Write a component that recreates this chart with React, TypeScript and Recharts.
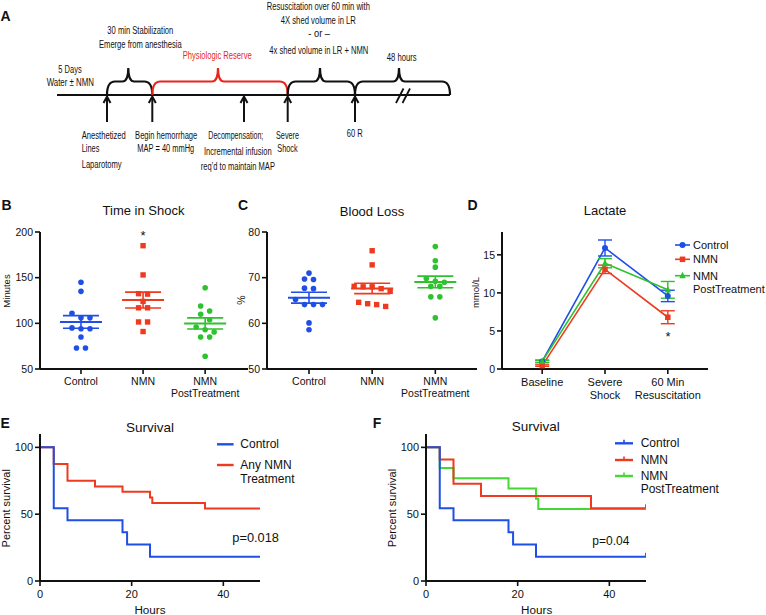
import React from 'react';
import { ScatterChart, Scatter, LineChart, Line, XAxis, YAxis, ErrorBar, Legend } from 'recharts';

const FONT = '"Liberation Sans", Arial, Helvetica, sans-serif';
const INK = '#111';
const BLUE = '#1f4fe6';
const RED = '#ee3b20';
const GREEN = '#2ec22e';
const GREEN_F = '#44d833';
const TIMELINE_RED = '#e8261c';

// B / C – groups
const groupLabels = [['Control'], ['NMN'], ['NMN', 'PostTreatment']];
const groupTicks = [1, 2, 3];

// B – time in shock (minutes)
const shockControl = [145, 135, 111, 106, 106, 95, 94, 94, 85, 73, 73];
const shockNmn = [185, 153, 132.5, 132, 124, 117, 117, 101.5, 101.5, 91];
const shockPost = [139, 119, 113.5, 110, 104, 96, 93, 90.5, 85, 85, 64];
const shockTicks = [50, 100, 150, 200];

// C – blood loss (%)
const lossControl = [71, 69.7, 69.6, 67.7, 67.6, 65.2, 64.1, 64.1, 64.1, 60.1, 58.6];
const lossNmn = [75.9, 72.8, 68.1, 68, 68, 67.6, 67, 64.6, 64.3, 64.1, 63.7];
const lossPost = [76.8, 73.7, 72.3, 69.8, 69.2, 69, 68.1, 68.1, 65.8, 65.8, 61.2];
const lossTicks = [50, 60, 70, 80];

// D – lactate (mmol/L), mean and SEM
const lactateLabels = [['Baseline'], ['Severe', 'Shock'], ['60 Min', 'Resuscitation']];
const lactateControl = [1.0, 15.9, 9.6];
const lactateControlSem = [0.15, 1.05, 0.75];
const lactateNmn = [0.45, 13.1, 6.8];
const lactateNmnSem = [0.1, 0.55, 0.85];
const lactatePost = [1.0, 13.9, 10.4];
const lactatePostSem = [0.15, 0.6, 1.1];
const lactateTicks = [0, 5, 10, 15];

// E / F – survival (%)
const ctrlHours = [0, 3, 6, 18, 19, 24, 48];
const ctrlSurvival = [100, 54.5, 45.5, 36.4, 27.3, 18.2, 18.2];
const anyNmnHours = [0, 3, 6, 12, 18, 24, 24.5, 36, 48];
const anyNmnSurvival = [100, 87.5, 75, 70.8, 66.7, 62.5, 58.3, 54.2, 54.2];
const nmnHours = [0, 3, 6, 12, 36, 48];
const nmnSurvival = [100, 90.9, 72.7, 63.6, 54.5, 54.5];
const postHours = [0, 3, 6, 18, 24, 24.5, 48];
const postSurvival = [100, 84.6, 76.9, 69.2, 61.5, 53.8, 53.8];
const hourTicks = [0, 20, 40];
const survivalTicks = [0, 50, 100];

const mean = (a: number[]) => a.reduce((s, v) => s + v, 0) / a.length;
const sem = (a: number[]) => {
  const m = mean(a);
  const sd = Math.sqrt(a.reduce((s, v) => s + (v - m) ** 2, 0) / (a.length - 1));
  return sd / Math.sqrt(a.length);
};

// spread points of similar value side by side, like a scatter dot plot
const ROW_TOL = 5.5;
const DOT_GAP = 9;
function swarm(values: number[], cat: number, pxPerUnit: number, pxPerCat: number) {
  const sorted = [...values].sort((a, b) => b - a);
  const rows: number[][] = [];
  sorted.forEach((v) => {
    const row = rows[rows.length - 1];
    if (row && (row[0] - v) * pxPerUnit < ROW_TOL) row.push(v);
    else rows.push([v]);
  });
  return rows.flatMap((row) =>
    row.map((v, i) => ({ x: cat + ((i - (row.length - 1) / 2) * DOT_GAP) / pxPerCat, y: v }))
  );
}

const axisLine = { stroke: INK, strokeWidth: 2 };
const tickLine = { stroke: INK, strokeWidth: 1.6 };

function CategoryTick(props: any) {
  const { x, y, payload, labels, size, gap } = props;
  const lines: string[] = labels[Math.round(payload.value) - 1] || [];
  return (
    <text x={x} y={y} textAnchor="middle" fontSize={size} fill={INK}>
      {lines.map((l, i) => (
        <tspan key={i} x={x} dy={i === 0 ? '0.71em' : gap}>{l}</tspan>
      ))}
    </text>
  );
}

const circleShape = (color: string, r: number) => (p: any) =>
  <circle key={p.index} cx={p.cx} cy={p.cy} r={r} fill={color} />;
const squareShape = (color: string, s: number) => (p: any) =>
  <rect key={p.index} x={p.cx - s / 2} y={p.cy - s / 2} width={s} height={s} fill={color} />;
const triangleShape = (color: string, s: number) => (p: any) =>
  <path key={p.index} d={`M${p.cx},${p.cy - s * 0.6}L${p.cx + s / 2},${p.cy + s * 0.4}L${p.cx - s / 2},${p.cy + s * 0.4}Z`} fill={color} />;
const meanShape = (color: string) => (p: any) =>
  <line x1={p.cx - 21} x2={p.cx + 21} y1={p.cy} y2={p.cy} stroke={color} strokeWidth={2} />;

const PLOT_H = 137;

function DotPanel({ left, width, marginRight, yDomain, yTicks, xDomain, groups }: any) {
  const plotW = width - 40 - marginRight;
  const pxPerUnit = PLOT_H / (yDomain[1] - yDomain[0]);
  const pxPerCat = plotW / (xDomain[1] - xDomain[0]);
  const colors = [BLUE, RED, GREEN];
  return (
    <div style={{ position: 'absolute', left, top: 190 }}>
      <ScatterChart width={width} height={215} margin={{ top: 42, right: marginRight, bottom: 6, left: 0 }}>
        <XAxis
          type="number"
          dataKey="x"
          domain={xDomain}
          ticks={groupTicks}
          interval={0}
          allowDataOverflow
          axisLine={axisLine}
          tickLine={tickLine}
          tickSize={5}
          tickMargin={3.5}
          tick={(p: any) => <CategoryTick {...p} labels={groupLabels} size={10.5} gap={11.7} />}
        />
        <YAxis
          type="number"
          dataKey="y"
          domain={yDomain}
          ticks={yTicks}
          interval={0}
          width={40}
          allowDataOverflow
          axisLine={axisLine}
          tickLine={tickLine}
          tickSize={5}
          tick={{ fontSize: 10.5, fill: INK }}
        />
        {groups.map((vals: number[], gi: number) => (
          <Scatter
            key={`pts${gi}`}
            data={swarm(vals, gi + 1, pxPerUnit, pxPerCat)}
            isAnimationActive={false}
            shape={gi === 1 ? squareShape(colors[gi], 5.4) : circleShape(colors[gi], 2.8)}
          />
        ))}
        {groups.map((vals: number[], gi: number) => (
          <Scatter
            key={`mean${gi}`}
            data={[{ x: gi + 1, y: mean(vals), err: sem(vals) }]}
            isAnimationActive={false}
            shape={meanShape(colors[gi])}
          >
            <ErrorBar dataKey="err" direction="y" width={18} stroke={colors[gi]} strokeWidth={1.6} isAnimationActive={false} />
          </Scatter>
        ))}
      </ScatterChart>
    </div>
  );
}

const LEGEND_PAD = 6;

function LegendBox({ items, width, height, lineLen, textX, fontSize, lineGap }: any) {
  return (
    <svg width={width} height={height + LEGEND_PAD * 2} style={{ display: 'block', fontFamily: FONT }}>
      <g transform={`translate(0,${LEGEND_PAD})`}>
        {items.map((it: any, i: number) => (
          <g key={i}>
            <line x1={0} x2={lineLen} y1={it.y} y2={it.y} stroke={it.color} strokeWidth={it.width || 1.6} />
            {it.marker && it.marker({ cx: lineLen / 2, cy: it.y, index: i })}
            {it.tick && <line x1={lineLen / 2} x2={lineLen / 2} y1={it.y} y2={it.y - 3.5} stroke={it.color} strokeWidth={1.6} />}
            <text x={textX} y={it.y} fontSize={fontSize} fill={INK} dominantBaseline="central">
              {it.label.map((l: string, j: number) => (
                <tspan key={j} x={textX} dy={j === 0 ? 0 : lineGap}>{l}</tspan>
              ))}
            </text>
          </g>
        ))}
      </g>
    </svg>
  );
}

function LactatePanel() {
  const rows = lactateLabels.map((_, i) => ({
    x: i + 1,
    control: lactateControl[i],
    controlSem: lactateControlSem[i],
    nmn: lactateNmn[i],
    nmnSem: lactateNmnSem[i],
    post: lactatePost[i],
    postSem: lactatePostSem[i],
  }));
  const legendItems = [
    { label: ['Control'], color: BLUE, y: 6, marker: circleShape(BLUE, 3) },
    { label: ['NMN'], color: RED, y: 20.3, marker: squareShape(RED, 5.5) },
    { label: ['NMN', 'PostTreatment'], color: GREEN, y: 36.7, marker: triangleShape(GREEN, 6.5) },
  ];
  return (
    <div style={{ position: 'absolute', left: 462, top: 190 }}>
      <LineChart data={rows} width={304} height={215} margin={{ top: 42, right: 58, bottom: 6, left: 0 }}>
        <XAxis
          type="number"
          dataKey="x"
          domain={[0.36, 3.64]}
          ticks={groupTicks}
          interval={0}
          allowDataOverflow
          axisLine={axisLine}
          tickLine={tickLine}
          tickSize={5}
          tickMargin={4}
          tick={(p: any) => <CategoryTick {...p} labels={lactateLabels} size={11} gap={13.4} />}
        />
        <YAxis
          type="number"
          domain={[0, 18]}
          ticks={lactateTicks}
          interval={0}
          width={40}
          allowDataOverflow
          axisLine={axisLine}
          tickLine={tickLine}
          tickSize={5}
          tick={{ fontSize: 10.5, fill: INK }}
        />
        <Line dataKey="control" stroke={BLUE} strokeWidth={1.6} dot={circleShape(BLUE, 3)} isAnimationActive={false}>
          <ErrorBar dataKey="controlSem" direction="y" width={7} stroke={BLUE} strokeWidth={1.4} isAnimationActive={false} />
        </Line>
        <Line dataKey="nmn" stroke={RED} strokeWidth={1.6} dot={squareShape(RED, 5.5)} isAnimationActive={false}>
          <ErrorBar dataKey="nmnSem" direction="y" width={7} stroke={RED} strokeWidth={1.4} isAnimationActive={false} />
        </Line>
        <Line dataKey="post" stroke={GREEN} strokeWidth={1.6} dot={triangleShape(GREEN, 6.5)} isAnimationActive={false}>
          <ErrorBar dataKey="postSem" direction="y" width={7} stroke={GREEN} strokeWidth={1.4} isAnimationActive={false} />
        </Line>
        <Legend
          layout="vertical"
          align="center"
          verticalAlign="middle"
          wrapperStyle={{ left: 213, top: 49 - LEGEND_PAD, width: 100, height: 60 + LEGEND_PAD * 2, margin: 0 }}
          content={() => (
            <LegendBox items={legendItems} width={100} height={60} lineLen={15} textX={18} fontSize={11} lineGap={13.3} />
          )}
        />
      </LineChart>
    </div>
  );
}

const toSteps = (hours: number[], surv: number[]) => hours.map((t, i) => ({ t, s: surv[i] }));

const censorDot = (color: string, last: number) => (p: any) =>
  p.index === last ? (
    <line key={p.index} x1={p.cx} x2={p.cx} y1={p.cy} y2={p.cy - 4} stroke={color} strokeWidth={1.8} />
  ) : (
    <g key={p.index} />
  );

function SurvivalPanel({ left, series, legendItems, legendLeft, legendLineLen, legendTextX, legendGap }: any) {
  return (
    <div style={{ position: 'absolute', left, top: 400 }}>
      <LineChart width={380} height={215} margin={{ top: 34, right: 120, bottom: 4, left: 0 }}>
        <XAxis
          type="number"
          dataKey="t"
          domain={[0, 48]}
          ticks={hourTicks}
          interval={0}
          allowDataOverflow
          axisLine={axisLine}
          tickLine={tickLine}
          tickSize={5}
          tickMargin={4.5}
          tick={{ fontSize: 11, fill: INK }}
        />
        <YAxis
          type="number"
          dataKey="s"
          domain={[0, 110]}
          ticks={survivalTicks}
          interval={0}
          width={40}
          allowDataOverflow
          axisLine={axisLine}
          tickLine={tickLine}
          tickSize={5}
          tick={{ fontSize: 11, fill: INK }}
        />
        {series.map((s: any) => (
          <Line
            key={s.name}
            data={s.data}
            dataKey="s"
            type="stepAfter"
            stroke={s.color}
            strokeWidth={2}
            dot={s.censor ? censorDot(s.color, s.data.length - 1) : false}
            isAnimationActive={false}
          />
        ))}
        <Legend
          layout="vertical"
          align="center"
          verticalAlign="middle"
          wrapperStyle={{ left: legendLeft, top: 38 - LEGEND_PAD, width: 140, height: 60 + LEGEND_PAD * 2, margin: 0 }}
          content={() => (
            <LegendBox items={legendItems} width={140} height={60} lineLen={legendLineLen} textX={legendTextX} fontSize={12} lineGap={legendGap} />
          )}
        />
      </LineChart>
    </div>
  );
}

function brace(x1: number, xm: number, x2: number) {
  const y0 = 95;
  const yh = 81.5;
  const yp = 68;
  const r = 8;
  const q = 6;
  return `M${x1},${y0} Q${x1},${yh} ${x1 + r},${yh} L${xm - q},${yh} Q${xm},${yh} ${xm},${yp} Q${xm},${yh} ${xm + q},${yh} L${x2 - r},${yh} Q${x2},${yh} ${x2},${y0}`;
}

// narrow timeline lettering: squeeze each line to the width it has in the figure
const A_FONT_SIZE = 11.5;
let measureCtx: CanvasRenderingContext2D | null = null;
function naturalWidth(s: string) {
  if (!measureCtx) measureCtx = document.createElement('canvas').getContext('2d');
  if (!measureCtx) return s.length * A_FONT_SIZE * 0.5;
  measureCtx.font = `${A_FONT_SIZE}px "Liberation Sans", Arial, sans-serif`;
  return measureCtx.measureText(s).width;
}

const T = ({ x, y, w, children, anchor = 'middle', fill = INK }: any) => {
  const sx = w / naturalWidth(String(children));
  return (
    <text transform={`translate(${x},${y}) scale(${sx.toFixed(3)},1)`} textAnchor={anchor} fontSize={A_FONT_SIZE} fill={fill}>
      {children}
    </text>
  );
};

function Timeline() {
  const arrows = [107, 152.3, 244, 287.7, 355];
  return (
    <g>
      <line x1={57} x2={450} y1={95} y2={95} stroke={INK} strokeWidth={2} />
      <path d={brace(107, 128.3, 152.3)} fill="none" stroke={INK} strokeWidth={2.2} />
      <path d={brace(152.3, 218, 287.7)} fill="none" stroke={TIMELINE_RED} strokeWidth={2.2} />
      <path d={brace(287.7, 320, 355)} fill="none" stroke={INK} strokeWidth={2.2} />
      <path d={brace(355, 399, 450)} fill="none" stroke={INK} strokeWidth={2.2} />
      <line x1={396} x2={403.5} y1={103} y2={88.5} stroke={INK} strokeWidth={1.8} />
      <line x1={402.5} x2={410} y1={103} y2={88.5} stroke={INK} strokeWidth={1.8} />
      {arrows.map((x) => (
        <g key={x}>
          <line x1={x} x2={x} y1={122} y2={97} stroke={INK} strokeWidth={2} />
          <polyline points={`${x - 3.5},${103} ${x},${96.5} ${x + 3.5},${103}`} fill="none" stroke={INK} strokeWidth={2} />
        </g>
      ))}
      <T x={70} y={73} w={23.3}>5 Days</T>
      <T x={70.3} y={86} w={47.3}>Water ± NMN</T>
      <T x={140.3} y={34} w={66}>30 min Stabilization</T>
      <T x={140.3} y={48} w={82.7}>Emerge from anesthesia</T>
      <T x={217.2} y={59} w={69} fill={TIMELINE_RED}>Physiologic Reserve</T>
      <T x={318.3} y={10} w={103.3}>Resuscitation over 60 min with</T>
      <T x={318.3} y={24} w={75.3}>4X shed volume in LR</T>
      <T x={319.2} y={37} w={21.7}>- or –</T>
      <T x={318.8} y={54} w={99}>4x shed volume in LR + NMN</T>
      <T x={401.7} y={60.7} w={30}>48 hours</T>
      <T x={81.7} y={139.3} w={44} anchor="start">Anesthetized</T>
      <T x={81.7} y={151.7} w={17.7} anchor="start">Lines</T>
      <T x={81.7} y={168} w={40} anchor="start">Laparotomy</T>
      <T x={166.2} y={139.3} w={62.3}>Begin hemorrhage</T>
      <T x={165.8} y={151.5} w={57}>MAP = 40 mmHg</T>
      <T x={235.8} y={139.3} w={55}>Decompensation;</T>
      <T x={237.8} y={155} w={67.7}>Incremental infusion</T>
      <T x={237.8} y={170} w={74.3}>req’d to maintain MAP</T>
      <T x={287.5} y={139.3} w={23}>Severe</T>
      <T x={287.5} y={152} w={20.3}>Shock</T>
      <T x={354.7} y={136.7} w={16}>60 R</T>
    </g>
  );
}

const Letter = ({ x, y, children }: any) => (
  <text x={x} y={y} fontSize={14} fontWeight="bold" fill={INK}>{children}</text>
);
const Title = ({ x, y, size = 13, children }: any) => (
  <text x={x} y={y} fontSize={size} textAnchor="middle" fill={INK}>{children}</text>
);
const VLabel = ({ x, y, size, children }: any) => (
  <text transform={`translate(${x},${y}) rotate(-90)`} fontSize={size} textAnchor="middle" fill={INK}>{children}</text>
);

export default function App() {
  const survivalE = [
    { name: 'Any NMN Treatment', color: RED, data: toSteps(anyNmnHours, anyNmnSurvival) },
    { name: 'Control', color: BLUE, data: toSteps(ctrlHours, ctrlSurvival) },
  ];
  const survivalF = [
    { name: 'NMN PostTreatment', color: GREEN_F, data: toSteps(postHours, postSurvival), censor: true },
    { name: 'NMN', color: RED, data: toSteps(nmnHours, nmnSurvival), censor: true },
    { name: 'Control', color: BLUE, data: toSteps(ctrlHours, ctrlSurvival), censor: true },
  ];
  const legendE = [
    { label: ['Control'], color: BLUE, y: 6.3, width: 2.4 },
    { label: ['Any NMN', 'Treatment'], color: RED, y: 27, width: 2.4 },
  ];
  const legendF = [
    { label: ['Control'], color: BLUE, y: 5.3, width: 2.4, tick: true },
    { label: ['NMN'], color: RED, y: 22, width: 2.4, tick: true },
    { label: ['NMN', 'PostTreatment'], color: GREEN_F, y: 38, width: 2.4, tick: true },
  ];
  return (
    <div style={{ position: 'absolute', left: 0, top: 0, width: 766, height: 615, background: '#fff', fontFamily: FONT, overflow: 'hidden' }}>
      <DotPanel
        left={0}
        width={260}
        marginRight={12}
        yDomain={[50, 200]}
        yTicks={shockTicks}
        xDomain={[0.34, 3.69]}
        groups={[shockControl, shockNmn, shockPost]}
      />
      <DotPanel
        left={227}
        width={260}
        marginRight={10}
        yDomain={[50, 80]}
        yTicks={lossTicks}
        xDomain={[0.335, 3.66]}
        groups={[lossControl, lossNmn, lossPost]}
      />
      <LactatePanel />
      <SurvivalPanel
        left={0}
        series={survivalE}
        legendItems={legendE}
        legendLeft={216.7}
        legendLineLen={16.6}
        legendTextX={23.3}
        legendGap={14}
      />
      <SurvivalPanel
        left={386}
        series={survivalF}
        legendItems={legendF}
        legendLeft={229}
        legendLineLen={18}
        legendTextX={25.7}
        legendGap={13.3}
      />
      <svg width={766} height={615} style={{ position: 'absolute', left: 0, top: 0, pointerEvents: 'none' }} fontFamily={FONT}>
        <Timeline />
        <Letter x={0.5} y={21}>A</Letter>
        <Letter x={1.5} y={209.5}>B</Letter>
        <Letter x={238} y={210}>C</Letter>
        <Letter x={467.5} y={210}>D</Letter>
        <Letter x={0.5} y={428}>E</Letter>
        <Letter x={372.7} y={428}>F</Letter>
        <Title x={143.5} y={214.5}>Time in Shock</Title>
        <Title x={372} y={215.5}>Blood Loss</Title>
        <Title x={605} y={215}>Lactate</Title>
        <Title x={150} y={431.5} size={13.5}>Survival</Title>
        <Title x={535.7} y={430.7} size={13.5}>Survival</Title>
        <VLabel x={10} y={291} size={9.5}>Minutes</VLabel>
        <VLabel x={245} y={300} size={10.5}>%</VLabel>
        <VLabel x={479.3} y={292.5} size={9.5}>mmol/L</VLabel>
        <VLabel x={10} y={508.3} size={11}>Percent survival</VLabel>
        <VLabel x={396} y={508} size={11}>Percent survival</VLabel>
        <Title x={150} y={614} size={11.7}>Hours</Title>
        <Title x={536.7} y={614} size={11.7}>Hours</Title>
        <Title x={143} y={239.5}>*</Title>
        <Title x={668} y={340.5}>*</Title>
        <text x={232.3} y={542.3} fontSize={12.8} fill={INK}>p=0.018</text>
        <text x={592.3} y={545} fontSize={12} fill={INK}>p=0.04</text>
      </svg>
    </div>
  );
}
